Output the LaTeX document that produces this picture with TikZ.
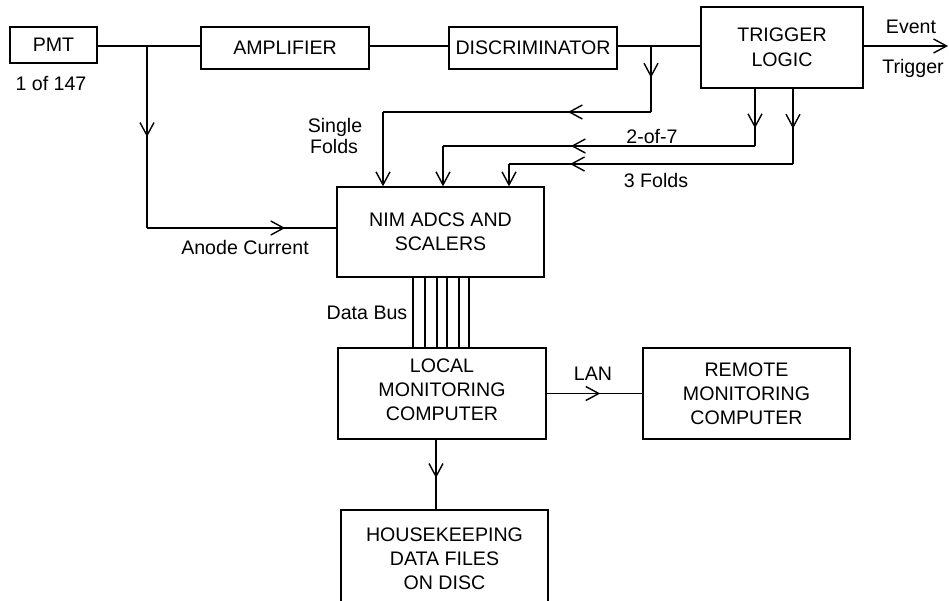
\documentclass[tikz,border=0pt]{standalone}
\usepackage{fontspec}
\setmainfont{Liberation Sans}
\usetikzlibrary{arrows.meta,decorations.markings}
\begin{document}
\begin{tikzpicture}[x=1pt,y=-1pt,
  line width=1.4pt,
  font=\fontsize{19.6}{24}\selectfont,
  box/.style={draw, rectangle, inner sep=0pt, align=center},
  lbl/.style={inner sep=0pt, anchor=base},
  endarrow/.style={-{Straight Barb[length=13pt,width=14pt]}},
  midarrow/.style={postaction={decorate}, decoration={markings, mark=at position #1 with {\arrow{Straight Barb[length=13pt,width=14pt]}}}}
]
\useasboundingbox (0,0) rectangle (949,600);
\clip (0,0) rectangle (949,600);

% boxes
\node[box, minimum width=87, minimum height=36] (pmt) at (53.5,45) {PMT};
\node[box, minimum width=168, minimum height=42] (amp) at (285,48) {AMPLIFIER};
\node[box, minimum width=168, minimum height=42] (disc) at (533,48) {DISCRIMINATOR};
\node[box, minimum width=162, minimum height=81] (trig) at (782,47.5) {TRIGGER\\[1pt]LOGIC};
\node[box, minimum width=207, minimum height=90] (nim) at (440.5,232) {NIM ADCS AND\\SCALERS};
\node[box, minimum width=208, minimum height=91] (loc) at (442,393.5) {LOCAL\\MONITORING\\COMPUTER\rule[-7pt]{0pt}{7pt}};
\node[box, minimum width=207, minimum height=91] (rem) at (746.5,393.5) {REMOTE\\MONITORING\\COMPUTER};
\node[box, minimum width=207, minimum height=98] (hk) at (444.5,559) {HOUSEKEEPING\\DATA FILES\\ON DISC};

% labels
\node[lbl] (n147) at (51,90) {1 of 147};
\node[lbl] (ev1) at (911,33) {Event};
\node[lbl] (ev2) at (913,73) {Trigger};
\node[lbl] (sf1) at (335,132) {Single};
\node[lbl] (sf2) at (334,153) {Folds};
\node[lbl] (l27) at (652,143) {2-of-7};
\node[lbl] (l3f) at (656,187) {3 Folds};
\node[lbl] (anode) at (245,254) {Anode Current};
\node[lbl] (dbus) at (367,319) {Data Bus};
\node[lbl] (lan) at (593,380) {LAN};

% junctions and corners
\coordinate (j1) at (147,46);
\coordinate (c1) at (147,228);
\coordinate (j2) at (651,46);
\coordinate (c2) at (651,112);
\coordinate (c3) at (383,112);
\coordinate (t1) at (755,146);
\coordinate (c5) at (443,146);
\coordinate (t2) at (793,164);
\coordinate (c7) at (509,164);
\coordinate (evend) at (948,46);
\coordinate (hx) at (436,0);

% main signal line
\draw (pmt.east |- j1) -- (amp.west |- j1);
\draw (amp.east |- j1) -- (disc.west |- j1);
\draw (disc.east |- j1) -- (trig.west |- j1);
\draw[endarrow] (trig.east |- j1) -- (evend);

% anode current
\draw[midarrow=0.5] (j1) -- (c1);
\draw[midarrow=0.73] (c1) -- (nim.west |- c1);

% single folds
\draw[midarrow=0.48] (j2) -- (c2);
\draw[midarrow=0.31] (c2) -- (c3);
\draw[endarrow] (c3) -- (c3 |- nim.north);

% 2-of-7
\draw[midarrow=0.69] (trig.south -| t1) -- (t1);
\draw[midarrow=0.59] (t1) -- (c5);
\draw[endarrow] (c5) -- (c5 |- nim.north);

% 3 folds
\draw[midarrow=0.53] (trig.south -| t2) -- (t2);
\draw[midarrow=0.785] (t2) -- (c7);
\draw[endarrow] (c7) -- (c7 |- nim.north);

% data bus
\foreach \bx in {413,425,437,447,459,469}{
  \coordinate (bus) at (\bx,0);
  \draw (nim.south -| bus) -- (loc.north -| bus);
}

% LAN and disc
\draw[midarrow=0.56] (loc.east) -- (rem.west);
\draw[midarrow=0.55] (loc.south -| hx) -- (hk.north -| hx);
\end{tikzpicture}
\end{document}
